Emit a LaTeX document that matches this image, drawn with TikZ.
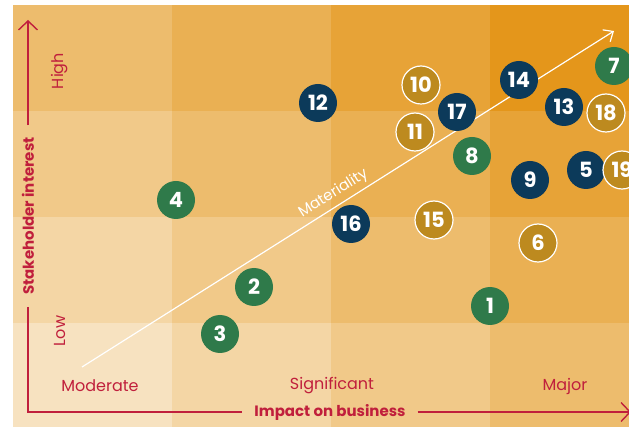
\documentclass[tikz,border=0pt]{standalone}
\usepackage{fontspec}
\setmainfont{Poppins}
\usetikzlibrary{arrows.meta}
\definecolor{bgLight}{HTML}{F7E2C0}
\definecolor{bgDark}{HTML}{E4961B}
\definecolor{axisRed}{HTML}{C01F3C}
\definecolor{navy}{HTML}{0C3A5A}
\definecolor{leaf}{HTML}{2F7A4A}
\definecolor{ochre}{HTML}{BD8A1F}
\begin{document}
\begin{tikzpicture}[x=1pt,y=-1pt,
  issue/.style={circle,minimum size=38pt,inner sep=0pt,text=white,font=\fontsize{21}{21}\selectfont\bfseries},
  navyissue/.style={issue,fill=navy},
  greenissue/.style={issue,fill=leaf},
  goldissue/.style={issue,fill=ochre,draw=white,line width=1.2pt},
  axis/.style={axisRed,line width=1.4pt},
  axislabel/.style={text=axisRed,font=\fontsize{15}{15}\selectfont\bfseries,inner xsep=12pt},
  level/.style={text=axisRed,font=\fontsize{16}{16}\selectfont},
  tip/.style={-{Straight Barb[length=9pt,width=19pt]}}]
 \useasboundingbox (0,0) rectangle (629,427);
 \clip (0,0) rectangle (629,427);
 \fill[white] (0,0) rectangle (629,427);
 % grid of cells, darker to the upper right
 \foreach \i in {0,...,3}
  \foreach \j in {0,...,3}{
   \pgfmathtruncatemacro\pa{(\i+3-\j)*100/6}
   \fill[bgDark!\pa!bgLight] (13+159*\i,5+106*\j) rectangle (13+159*\i+159,5+106*\j+106);
  }
 % levels
 \node[level,rotate=90] (high) at (60,71) {High};
 \node[level,rotate=90] (low) at (60,331) {Low};
 \node[level] (moderate) at (100,386) {Moderate};
 \node[level] (significant) at (332,386) {Significant};
 \node[level] (major) at (565,386) {Major};
 % axes
 \coordinate (origin) at (28,412);
 \coordinate (ytop) at (28,20);
 \coordinate (xend) at (631,412);
 \node[axislabel,rotate=90] (ylab) at (28,216) {Stakeholder interest};
 \node[axislabel] (xlab) at (330,412) {Impact on business};
 \draw[axis] (ylab.west) -- (origin) -- (xlab.west);
 \draw[axis,tip] (ylab.east) -- (ytop);
 \draw[axis,tip] (xlab.east) -- (xend);
 % materiality
 \coordinate (mStart) at (82,367);
 \coordinate (mEnd) at (614,31);
 \draw[white,line width=1.2pt,-{Straight Barb[length=8pt,width=14pt]}] (mStart) -- node[sloped,above,pos=0.485,inner sep=4pt,text=white,font=\fontsize{15}{15}\selectfont] (mlab) {Materiality} (mEnd);
 % issues
 \node[greenissue] (i1) at (490,306) {1};
 \node[greenissue] (i2) at (254,287) {2};
 \node[greenissue] (i3) at (220,334) {3};
 \node[greenissue] (i4) at (176,200) {4};
 \node[navyissue] (i5) at (586,170) {5};
 \node[goldissue] (i6) at (538,243) {6};
 \node[greenissue] (i7) at (614,66) {7};
 \node[greenissue] (i8) at (472,156) {8};
 \node[navyissue] (i9) at (530,180) {9};
 \node[goldissue] (i10) at (421,85) {10};
 \node[goldissue] (i11) at (415,132) {11};
 \node[navyissue] (i12) at (318,103) {12};
 \node[navyissue] (i13) at (564,107) {13};
 \node[navyissue] (i14) at (519,80) {14};
 \node[goldissue] (i15) at (434,220) {15};
 \node[navyissue] (i16) at (351,224) {16};
 \node[navyissue] (i17) at (457,112) {17};
 \node[goldissue] (i18) at (606,113) {18};
 \node[goldissue] (i19) at (622,170) {19};
\end{tikzpicture}
\end{document}
